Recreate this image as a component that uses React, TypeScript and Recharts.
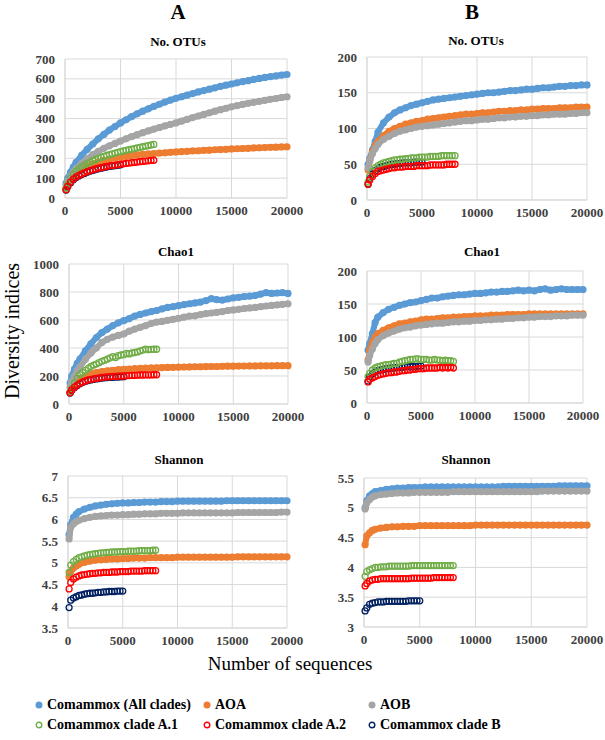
import React from 'react';
import { ScatterChart, Scatter, XAxis, YAxis, CartesianGrid } from 'recharts';

// sampling depths (number of sequences)
const DEPTH_LONG = [100, 250, 500, 750, 1000, 1500, 2000, 2500, 3000, 3500, 4000, 4500, 5000, 5500, 6000, 6500, 7000, 7500, 8000, 8500, 9000, 9500, 10000, 10500, 11000, 11500, 12000, 12500, 13000, 13500, 14000, 14500, 15000, 15500, 16000, 16500, 17000, 17500, 18000, 18500, 19000, 19500, 20000];
const DEPTH_SHORT = [100, 250, 500, 750, 1000, 1250, 1500, 1750, 2000, 2250, 2500, 2750, 3000, 3250, 3500, 3750, 4000, 4250, 4500, 4750, 5000, 5250, 5500, 5750, 6000, 6250, 6500, 6750, 7000, 7250, 7500, 7750, 8000];
const DEPTH_CLADE_B = [100, 250, 500, 750, 1000, 1250, 1500, 1750, 2000, 2250, 2500, 2750, 3000, 3250, 3500, 3750, 4000, 4250, 4500, 4750, 5000];

const X_TICKS = [0, 5000, 10000, 15000, 20000];

// A - No. OTUs
const A_OTU_ALL = [75, 100, 130, 155, 180, 215, 245, 272, 298, 320, 342, 360, 378, 394, 410, 424, 437, 449, 461, 472, 483, 493, 502, 510, 518, 526, 534, 541, 548, 555, 562, 568, 574, 580, 586, 591, 597, 602, 607, 611, 615, 619, 622];
const A_OTU_AOA = [50, 70, 95, 112, 125, 145, 160, 172, 181, 189, 196, 201, 206, 210, 214, 217, 220, 222, 224, 226, 228, 230, 232, 234, 235, 237, 238, 240, 241, 243, 244, 245, 247, 248, 249, 250, 252, 253, 254, 255, 256, 257, 258];
const A_OTU_AOB = [65, 85, 110, 130, 148, 175, 198, 218, 235, 250, 263, 275, 287, 298, 309, 319, 329, 338, 347, 355, 363, 371, 378, 387, 396, 405, 413, 421, 429, 437, 445, 452, 459, 465, 471, 477, 482, 487, 492, 497, 501, 506, 510];
const A_OTU_A1 = [50, 72, 100, 120, 135, 147, 157, 166, 174, 181, 188, 194, 200, 205, 210, 214, 218, 222, 226, 230, 234, 237, 240, 243, 246, 249, 252, 255, 258, 261, 264, 267, 270];
const A_OTU_A2 = [42, 60, 80, 95, 106, 114, 121, 127, 133, 138, 142, 146, 150, 153, 156, 159, 162, 164, 166, 168, 170, 172, 174, 176, 178, 179, 181, 183, 184, 186, 187, 189, 190];
const A_OTU_B = [40, 57, 77, 92, 103, 111, 118, 124, 130, 135, 139, 143, 147, 150, 153, 156, 159, 161, 163, 165, 167];

// B - No. OTUs
const B_OTU_ALL = [50, 58, 70, 82, 95, 108, 116, 122, 126, 129, 132, 134, 136, 138, 140, 141, 142, 143, 144, 145, 146, 147, 148, 149, 150, 150, 151, 152, 153, 153, 154, 155, 155, 156, 157, 157, 158, 159, 159, 160, 160, 161, 161];
const B_OTU_AOA = [42, 55, 68, 76, 82, 90, 96, 100, 103, 106, 108, 110, 111, 113, 114, 115, 116, 117, 118, 119, 120, 120, 121, 122, 122, 123, 124, 124, 125, 125, 126, 126, 127, 127, 128, 128, 128, 129, 129, 129, 130, 130, 130];
const B_OTU_AOB = [45, 55, 65, 72, 78, 85, 89, 93, 96, 98, 100, 102, 103, 104, 105, 106, 107, 108, 109, 110, 111, 111, 112, 113, 113, 114, 115, 115, 116, 116, 117, 117, 118, 118, 119, 119, 120, 120, 120, 121, 121, 122, 122];
const B_OTU_A1 = [25, 33, 40, 45, 48, 50, 52, 53, 54, 55, 56, 56, 57, 57, 58, 58, 59, 59, 59, 60, 60, 60, 60, 61, 61, 61, 61, 62, 62, 62, 62, 62, 62];
const B_OTU_A2 = [22, 28, 33, 37, 40, 41, 42, 43, 44, 45, 45, 46, 46, 46, 47, 47, 47, 47, 48, 48, 48, 48, 48, 49, 49, 49, 49, 49, 49, 50, 50, 50, 50];
const B_OTU_B = [22, 30, 36, 41, 44, 46, 47, 48, 49, 50, 50, 51, 51, 52, 52, 52, 52, 53, 53, 53, 53];

// A - Chao1
const A_CHAO_ALL = [150, 200, 250, 290, 320, 380, 430, 475, 510, 535, 560, 580, 595, 610, 628, 640, 650, 660, 668, 680, 690, 695, 702, 710, 716, 722, 728, 738, 752, 745, 742, 750, 758, 762, 768, 770, 775, 785, 795, 790, 793, 795, 790];
const A_CHAO_AOA = [90, 115, 150, 170, 182, 200, 215, 225, 232, 237, 241, 245, 248, 250, 252, 254, 256, 258, 259, 260, 261, 262, 263, 264, 265, 266, 266, 267, 268, 268, 269, 270, 270, 271, 271, 272, 272, 273, 273, 273, 274, 274, 274];
const A_CHAO_AOB = [120, 160, 200, 240, 265, 320, 365, 400, 440, 462, 478, 490, 500, 520, 535, 548, 560, 575, 585, 590, 598, 605, 612, 620, 628, 630, 638, 645, 650, 655, 660, 668, 672, 676, 682, 686, 690, 695, 700, 704, 708, 712, 716];
const A_CHAO_A1 = [85, 110, 150, 185, 210, 225, 240, 255, 268, 278, 285, 295, 305, 312, 320, 330, 338, 332, 345, 350, 352, 362, 358, 365, 368, 372, 380, 385, 392, 388, 390, 391, 391];
const A_CHAO_A2 = [80, 100, 120, 135, 148, 158, 165, 172, 176, 180, 183, 186, 190, 192, 194, 195, 197, 198, 199, 200, 200, 202, 203, 204, 205, 206, 207, 207, 208, 208, 208, 209, 209];
const A_CHAO_B = [78, 98, 118, 132, 145, 155, 162, 168, 172, 176, 179, 182, 185, 187, 189, 190, 191, 192, 193, 194, 195];

// B - Chao1
const B_CHAO_ALL = [80, 90, 105, 122, 130, 137, 142, 145, 148, 150, 152, 153, 155, 157, 159, 159, 161, 162, 163, 164, 164, 165, 166, 166, 167, 168, 168, 169, 169, 170, 171, 170, 171, 170, 172, 173, 171, 172, 173, 172, 172, 172, 172];
const B_CHAO_AOA = [65, 80, 92, 100, 105, 110, 114, 117, 120, 121, 123, 124, 126, 127, 127, 128, 129, 129, 130, 130, 131, 131, 132, 132, 132, 133, 133, 133, 134, 134, 134, 134, 135, 135, 135, 135, 135, 135, 135, 135, 135, 135, 135];
const B_CHAO_AOB = [62, 72, 82, 90, 96, 102, 106, 109, 112, 114, 115, 117, 118, 119, 120, 121, 121, 122, 123, 123, 124, 124, 125, 125, 126, 126, 127, 127, 128, 128, 129, 129, 130, 130, 131, 131, 131, 132, 132, 132, 133, 133, 133];
const B_CHAO_A1 = [40, 45, 50, 53, 55, 56, 57, 58, 58, 59, 60, 60, 62, 63, 64, 65, 66, 66, 67, 67, 66, 66, 66, 65, 65, 66, 65, 65, 64, 65, 64, 64, 63];
const B_CHAO_A2 = [32, 36, 38, 40, 42, 43, 44, 45, 46, 46, 47, 47, 48, 49, 49, 50, 50, 51, 51, 52, 52, 52, 53, 53, 53, 53, 53, 54, 53, 54, 53, 54, 53];
const B_CHAO_B = [33, 40, 44, 47, 49, 50, 51, 52, 52, 53, 53, 54, 54, 54, 55, 55, 55, 55, 55, 56, 56];

// A - Shannon
const A_SHAN_ALL = [5.65, 5.88, 6.05, 6.12, 6.18, 6.24, 6.28, 6.31, 6.33, 6.35, 6.36, 6.37, 6.38, 6.38, 6.39, 6.39, 6.4, 6.4, 6.4, 6.41, 6.41, 6.41, 6.42, 6.42, 6.42, 6.42, 6.42, 6.42, 6.42, 6.42, 6.42, 6.43, 6.43, 6.43, 6.43, 6.43, 6.43, 6.43, 6.43, 6.43, 6.43, 6.43, 6.43];
const A_SHAN_AOA = [4.68, 4.8, 4.88, 4.93, 4.97, 5.01, 5.04, 5.06, 5.07, 5.08, 5.09, 5.09, 5.1, 5.1, 5.11, 5.11, 5.11, 5.12, 5.12, 5.12, 5.12, 5.12, 5.13, 5.13, 5.13, 5.13, 5.13, 5.13, 5.13, 5.13, 5.13, 5.13, 5.13, 5.14, 5.14, 5.14, 5.14, 5.14, 5.14, 5.14, 5.14, 5.14, 5.14];
const A_SHAN_AOB = [5.55, 5.82, 5.9, 5.95, 5.98, 6.02, 6.05, 6.07, 6.08, 6.09, 6.1, 6.1, 6.11, 6.11, 6.12, 6.12, 6.13, 6.13, 6.13, 6.14, 6.14, 6.14, 6.14, 6.15, 6.15, 6.15, 6.15, 6.15, 6.15, 6.15, 6.15, 6.15, 6.15, 6.16, 6.16, 6.16, 6.16, 6.16, 6.16, 6.16, 6.16, 6.17, 6.17];
const A_SHAN_A1 = [4.78, 4.95, 5.03, 5.08, 5.12, 5.14, 5.16, 5.18, 5.19, 5.2, 5.21, 5.22, 5.23, 5.23, 5.24, 5.24, 5.25, 5.25, 5.25, 5.26, 5.26, 5.26, 5.27, 5.27, 5.27, 5.27, 5.28, 5.28, 5.28, 5.28, 5.28, 5.29, 5.29];
const A_SHAN_A2 = [4.4, 4.55, 4.63, 4.67, 4.7, 4.72, 4.73, 4.74, 4.75, 4.76, 4.76, 4.77, 4.77, 4.78, 4.78, 4.78, 4.79, 4.79, 4.79, 4.8, 4.8, 4.8, 4.8, 4.81, 4.81, 4.81, 4.81, 4.81, 4.82, 4.82, 4.82, 4.82, 4.82];
const A_SHAN_B = [3.97, 4.14, 4.19, 4.22, 4.25, 4.26, 4.28, 4.29, 4.3, 4.3, 4.31, 4.32, 4.32, 4.33, 4.33, 4.34, 4.34, 4.34, 4.35, 4.35, 4.35];

// B - Shannon
const B_SHAN_ALL = [5.0, 5.12, 5.2, 5.24, 5.27, 5.29, 5.31, 5.32, 5.33, 5.33, 5.34, 5.34, 5.34, 5.35, 5.35, 5.35, 5.35, 5.35, 5.35, 5.35, 5.35, 5.35, 5.35, 5.35, 5.35, 5.35, 5.35, 5.36, 5.36, 5.36, 5.36, 5.36, 5.36, 5.36, 5.36, 5.36, 5.36, 5.37, 5.37, 5.37, 5.37, 5.37, 5.37];
const B_SHAN_AOA = [4.38, 4.53, 4.58, 4.62, 4.64, 4.66, 4.67, 4.68, 4.68, 4.69, 4.69, 4.69, 4.7, 4.7, 4.7, 4.7, 4.7, 4.7, 4.7, 4.7, 4.7, 4.7, 4.71, 4.71, 4.71, 4.71, 4.71, 4.71, 4.71, 4.71, 4.71, 4.71, 4.71, 4.71, 4.71, 4.71, 4.71, 4.71, 4.71, 4.71, 4.71, 4.71, 4.71];
const B_SHAN_AOB = [4.98, 5.08, 5.14, 5.18, 5.2, 5.22, 5.23, 5.24, 5.25, 5.25, 5.25, 5.26, 5.26, 5.26, 5.26, 5.26, 5.26, 5.26, 5.27, 5.27, 5.27, 5.27, 5.27, 5.27, 5.27, 5.27, 5.27, 5.27, 5.27, 5.27, 5.27, 5.27, 5.27, 5.27, 5.28, 5.28, 5.28, 5.28, 5.28, 5.28, 5.28, 5.28, 5.28];
const B_SHAN_A1 = [3.85, 3.93, 3.96, 3.98, 4.0, 4.0, 4.01, 4.01, 4.01, 4.02, 4.02, 4.02, 4.02, 4.02, 4.02, 4.02, 4.02, 4.03, 4.03, 4.03, 4.03, 4.03, 4.03, 4.03, 4.03, 4.03, 4.03, 4.03, 4.03, 4.03, 4.03, 4.03, 4.03];
const B_SHAN_A2 = [3.69, 3.73, 3.77, 3.79, 3.8, 3.8, 3.81, 3.81, 3.81, 3.81, 3.81, 3.81, 3.81, 3.81, 3.81, 3.81, 3.81, 3.82, 3.82, 3.82, 3.82, 3.82, 3.82, 3.82, 3.82, 3.83, 3.83, 3.83, 3.83, 3.83, 3.83, 3.83, 3.83];
const B_SHAN_B = [3.27, 3.32, 3.38, 3.4, 3.41, 3.42, 3.42, 3.42, 3.43, 3.43, 3.43, 3.43, 3.43, 3.43, 3.43, 3.43, 3.44, 3.44, 3.44, 3.44, 3.44];

const SERIF = '"Liberation Serif", "Times New Roman", serif';
const TICK = { fill: '#404040', fontSize: 13, fontWeight: 700, fontFamily: SERIF };

// legend order; drawn in DRAW_ORDER
const SERIES = [
  { key: 'all', name: 'Comammox (All clades)', color: '#5B9BD5', open: false, depths: DEPTH_LONG },
  { key: 'aoa', name: 'AOA', color: '#ED7D31', open: false, depths: DEPTH_LONG },
  { key: 'aob', name: 'AOB', color: '#A5A5A5', open: false, depths: DEPTH_LONG },
  { key: 'a1', name: 'Comammox clade A.1', color: '#70AD47', open: true, depths: DEPTH_SHORT },
  { key: 'a2', name: 'Comammox clade A.2', color: '#FF0000', open: true, depths: DEPTH_SHORT },
  { key: 'b', name: 'Comammox clade B', color: '#002060', open: true, depths: DEPTH_CLADE_B },
];
const DRAW_ORDER = ['all', 'aoa', 'aob', 'b', 'a1', 'a2'];

const PANELS = [
  { title: 'No. OTUs', tx: 178, ty: 42, box: [65, 59, 287, 198], domain: [0, 700], ticks: [0, 100, 200, 300, 400, 500, 600, 700],
    vals: { all: A_OTU_ALL, aoa: A_OTU_AOA, aob: A_OTU_AOB, a1: A_OTU_A1, a2: A_OTU_A2, b: A_OTU_B } },
  { title: 'No. OTUs', tx: 476, ty: 41, box: [367, 57, 587, 200], domain: [0, 200], ticks: [0, 50, 100, 150, 200],
    vals: { all: B_OTU_ALL, aoa: B_OTU_AOA, aob: B_OTU_AOB, a1: B_OTU_A1, a2: B_OTU_A2, b: B_OTU_B } },
  { title: 'Chao1', tx: 176, ty: 252, box: [69, 264, 288, 404], domain: [0, 1000], ticks: [0, 200, 400, 600, 800, 1000],
    vals: { all: A_CHAO_ALL, aoa: A_CHAO_AOA, aob: A_CHAO_AOB, a1: A_CHAO_A1, a2: A_CHAO_A2, b: A_CHAO_B } },
  { title: 'Chao1', tx: 482, ty: 252, box: [367, 271, 583, 403], domain: [0, 200], ticks: [0, 50, 100, 150, 200],
    vals: { all: B_CHAO_ALL, aoa: B_CHAO_AOA, aob: B_CHAO_AOB, a1: B_CHAO_A1, a2: B_CHAO_A2, b: B_CHAO_B } },
  { title: 'Shannon', tx: 179, ty: 460, box: [68, 476, 287, 628], domain: [3.5, 7], ticks: [3.5, 4, 4.5, 5, 5.5, 6, 6.5, 7],
    vals: { all: A_SHAN_ALL, aoa: A_SHAN_AOA, aob: A_SHAN_AOB, a1: A_SHAN_A1, a2: A_SHAN_A2, b: A_SHAN_B } },
  { title: 'Shannon', tx: 466, ty: 460, box: [364, 478, 587, 627], domain: [3, 5.5], ticks: [3, 3.5, 4, 4.5, 5, 5.5],
    vals: { all: B_SHAN_ALL, aoa: B_SHAN_AOA, aob: B_SHAN_AOB, a1: B_SHAN_A1, a2: B_SHAN_A2, b: B_SHAN_B } },
];

const marker = (color: string, open: boolean) => (props: any) =>
  open ? (
    <circle cx={props.cx} cy={props.cy} r={3} fill="none" stroke={color} strokeWidth={1.3} />
  ) : (
    <circle cx={props.cx} cy={props.cy} r={3.6} fill={color} />
  );

const Panel = ({ p }: { p: (typeof PANELS)[number] }) => {
  const [l, t, r, b] = p.box;
  const yw = 50;
  return (
    <>
      <div style={{ position: 'absolute', left: p.tx - 100, top: p.ty - 8, width: 200, lineHeight: '16px', textAlign: 'center',
        fontFamily: SERIF, fontWeight: 700, fontSize: 13 }}>{p.title}</div>
      <div style={{ position: 'absolute', left: l - yw, top: t - 10 }}>
        <ScatterChart width={r - l + yw + 20} height={b - t + 40} margin={{ top: 10, right: 20, bottom: 0, left: 0 }}>
          <CartesianGrid stroke="#D9D9D9" />
          <XAxis type="number" dataKey="x" domain={[0, 20000]} ticks={X_TICKS} height={30} tick={TICK}
            tickLine={false} axisLine={{ stroke: '#D9D9D9' }} interval={0} />
          <YAxis type="number" dataKey="y" domain={p.domain} ticks={p.ticks} width={yw} tick={TICK}
            tickLine={false} axisLine={{ stroke: '#D9D9D9' }} tickMargin={4} interval={0} />
          {DRAW_ORDER.map((k) => {
            const s = SERIES.find((d) => d.key === k)!;
            const ys = (p.vals as any)[k] as number[];
            const data = s.depths.map((x, i) => ({ x, y: ys[i] }));
            // the filled series are so dense in the original that they read as a band
            const band = s.open ? false : { stroke: s.color, strokeWidth: 6, strokeLinejoin: 'round' as const };
            return <Scatter key={k} name={s.name} data={data} line={band} shape={marker(s.color, s.open)} isAnimationActive={false} />;
          })}
        </ScatterChart>
      </div>
    </>
  );
};

const LEGEND_POS = [[39, 705], [207, 705], [372, 705], [39, 725], [207, 725], [372, 725]];

export default function App() {
  return (
    <div style={{ position: 'absolute', left: 0, top: 0, width: 605, height: 740, background: '#fff', fontFamily: SERIF }}>
      <div style={{ position: 'absolute', left: 158, top: 0, width: 40, textAlign: 'center', fontWeight: 700, fontSize: 21, lineHeight: '24px' }}>A</div>
      <div style={{ position: 'absolute', left: 452, top: 0, width: 40, textAlign: 'center', fontWeight: 700, fontSize: 21, lineHeight: '24px' }}>B</div>
      {PANELS.map((p, i) => <Panel key={i} p={p} />)}
      <div style={{ position: 'absolute', left: 12 - 100, top: 331 - 12, width: 200, height: 24, lineHeight: '24px', textAlign: 'center',
        fontSize: 20, transform: 'rotate(-90deg)' }}>Diversity indices</div>
      <div style={{ position: 'absolute', left: 190, top: 652, width: 200, textAlign: 'center', fontSize: 19, lineHeight: '24px' }}>
        Number of sequences</div>
      {SERIES.map((s, i) => (
        <div key={s.key} style={{ position: 'absolute', left: LEGEND_POS[i][0] - 4, top: LEGEND_POS[i][1] - 9, height: 18,
          display: 'flex', alignItems: 'center', fontWeight: 700, fontSize: 14, whiteSpace: 'nowrap' }}>
          <svg width={8} height={8} style={{ marginRight: 4 }}>
            {s.open
              ? <circle cx={4} cy={4} r={2.8} fill="none" stroke={s.color} strokeWidth={1.4} />
              : <circle cx={4} cy={4} r={3.5} fill={s.color} />}
          </svg>
          {s.name}
        </div>
      ))}
    </div>
  );
}
